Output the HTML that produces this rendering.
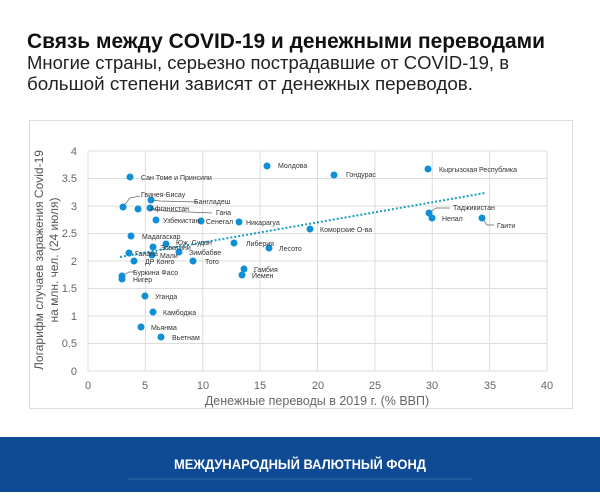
<!DOCTYPE html>
<html><head><meta charset="utf-8"><style>
body{margin:0;width:600px;height:492px;background:#fff;overflow:hidden;font-family:"Liberation Sans","Noto Sans CJK SC",sans-serif;}
</style></head><body>
<svg width="600" height="492" xmlns="http://www.w3.org/2000/svg" font-family="Liberation Sans, Noto Sans CJK SC, sans-serif">
<text x="27" y="48" font-size="21" font-weight="bold" fill="#111" textLength="518" lengthAdjust="spacingAndGlyphs">Связь между COVID-19 и денежными переводами</text>
<text x="27" y="69" font-size="18" fill="#222" textLength="482" lengthAdjust="spacingAndGlyphs">Многие страны, серьезно пострадавшие от COVID-19, в</text>
<text x="27" y="90" font-size="18" fill="#222" textLength="446" lengthAdjust="spacingAndGlyphs">большой степени зависят от денежных переводов.</text>
<rect x="29.5" y="120.5" width="543" height="288" fill="#fff" stroke="#ddd"/>
<g stroke="#ddd" stroke-width="1">
<line x1="88" y1="151" x2="547" y2="151"/><line x1="88" y1="178.5" x2="547" y2="178.5"/><line x1="88" y1="206" x2="547" y2="206"/><line x1="88" y1="233.5" x2="547" y2="233.5"/><line x1="88" y1="261" x2="547" y2="261"/><line x1="88" y1="288.5" x2="547" y2="288.5"/><line x1="88" y1="316" x2="547" y2="316"/><line x1="88" y1="343.5" x2="547" y2="343.5"/><line x1="88" y1="371" x2="547" y2="371"/>
<line x1="88" y1="151" x2="88" y2="371"/><line x1="145.4" y1="151" x2="145.4" y2="371"/><line x1="202.8" y1="151" x2="202.8" y2="371"/><line x1="260.1" y1="151" x2="260.1" y2="371"/><line x1="317.5" y1="151" x2="317.5" y2="371"/><line x1="374.9" y1="151" x2="374.9" y2="371"/><line x1="432.3" y1="151" x2="432.3" y2="371"/><line x1="489.6" y1="151" x2="489.6" y2="371"/><line x1="547" y1="151" x2="547" y2="371"/>
</g>
<g font-size="11" fill="#666" text-anchor="end">
<text x="77" y="155">4</text><text x="77" y="182">3.5</text><text x="77" y="210">3</text><text x="77" y="237">2.5</text><text x="77" y="265">2</text><text x="77" y="292">1.5</text><text x="77" y="320">1</text><text x="77" y="347">0.5</text><text x="77" y="375">0</text>
</g>
<g font-size="11" fill="#666" text-anchor="middle">
<text x="88" y="389">0</text><text x="145" y="389">5</text><text x="203" y="389">10</text><text x="260" y="389">15</text><text x="318" y="389">20</text><text x="375" y="389">25</text><text x="432" y="389">30</text><text x="490" y="389">35</text><text x="547" y="389">40</text>
<text x="317" y="405" font-size="12.5">Денежные переводы в 2019 г. (% ВВП)</text>
</g>
<g font-size="12" fill="#555" text-anchor="middle">
<text transform="translate(43,260) rotate(-90)">Логарифм случаев заражения Covid-19</text>
<text transform="translate(58,260) rotate(-90)">на млн. чел. (24 июля)</text>
</g>
<line x1="120" y1="257" x2="485" y2="193" stroke="#1a9cc0" stroke-width="2" stroke-dasharray="2,2"/>
<g stroke="#666" stroke-width="0.7" fill="none">
<polyline points="123,207 130,198 140,196"/><polyline points="151,200 160,201 198,202"/><polyline points="150,208 165,211 212,213"/>
<polyline points="429,213 436,208 450,208"/><polyline points="482,218 487,225 494,225"/><polyline points="122,276 129,272 135,272"/>
</g>
<g fill="#0f8fd6">
<circle cx="130" cy="177" r="3.5"/><circle cx="123" cy="207" r="3.5"/><circle cx="138" cy="209" r="3.5"/><circle cx="151" cy="200" r="3.5"/><circle cx="150" cy="208" r="3.5"/><circle cx="156" cy="220" r="3.5"/><circle cx="201" cy="221" r="3.5"/><circle cx="239" cy="222" r="3.5"/><circle cx="131" cy="236" r="3.5"/><circle cx="166" cy="244" r="3.5"/><circle cx="153" cy="247" r="3.5"/><circle cx="234" cy="243" r="3.5"/><circle cx="269" cy="248" r="3.5"/><circle cx="179" cy="252" r="3.5"/><circle cx="129" cy="253" r="3.5"/><circle cx="152" cy="255" r="3.5"/><circle cx="134" cy="261" r="3.5"/><circle cx="193" cy="261" r="3.5"/><circle cx="244" cy="269" r="3.5"/><circle cx="242" cy="275" r="3.5"/><circle cx="122" cy="276" r="3.5"/><circle cx="122" cy="279" r="3.5"/><circle cx="145" cy="296" r="3.5"/><circle cx="153" cy="312" r="3.5"/><circle cx="141" cy="327" r="3.5"/><circle cx="161" cy="337" r="3.5"/>
<circle cx="267" cy="166" r="3.5"/><circle cx="334" cy="175" r="3.5"/><circle cx="428" cy="169" r="3.5"/><circle cx="429" cy="213" r="3.5"/><circle cx="432" cy="218" r="3.5"/><circle cx="482" cy="218" r="3.5"/><circle cx="310" cy="229" r="3.5"/>
</g>
<g font-size="7" fill="#333">
<text x="141" y="180">Сан Томе и Принсипи</text><text x="141" y="197">Гвинея-Бисау</text><text x="194" y="204">Бангладеш</text><text x="150" y="211">Афганистан</text><text x="216" y="215">Гана</text>
<text x="163" y="223">Узбекистан</text><text x="206" y="224">Сенегал</text><text x="246" y="225">Никарагуа</text><text x="142" y="239">Мадагаскар</text><text x="176" y="245">Юж. Судан</text><text x="160" y="250">Эсватини</text>
<text x="246" y="246">Либерия</text><text x="279" y="251">Лесото</text><text x="189" y="255">Зимбабве</text><text x="135" y="256">Гаиана</text><text x="160" y="258">Мали</text><text x="145" y="264">ДР Конго</text><text x="205" y="264">Того</text>
<text x="254" y="272">Гамбия</text><text x="252" y="278">Йемен</text><text x="133" y="275">Буркина Фасо</text><text x="133" y="282">Нигер</text><text x="155" y="299">Уганда</text><text x="163" y="315">Камбоджа</text><text x="151" y="330">Мьянма</text><text x="172" y="340">Вьетнам</text>
<text x="278" y="168">Молдова</text><text x="346" y="177">Гондурас</text><text x="439" y="172">Кыргызская Республика</text><text x="453" y="210">Таджикистан</text><text x="442" y="221">Непал</text><text x="497" y="228">Гаити</text><text x="320" y="232">Коморские О-ва</text>
</g>
<rect x="0" y="437" width="600" height="55" fill="#0e4b94"/>
<line x1="128" y1="479" x2="472" y2="479" stroke="#3a6aa8" stroke-width="1"/>
<text x="300" y="469" font-size="13.5" font-weight="bold" fill="#fff" text-anchor="middle" textLength="252" lengthAdjust="spacingAndGlyphs">МЕЖДУНАРОДНЫЙ ВАЛЮТНЫЙ ФОНД</text>
</svg>
</body></html>
